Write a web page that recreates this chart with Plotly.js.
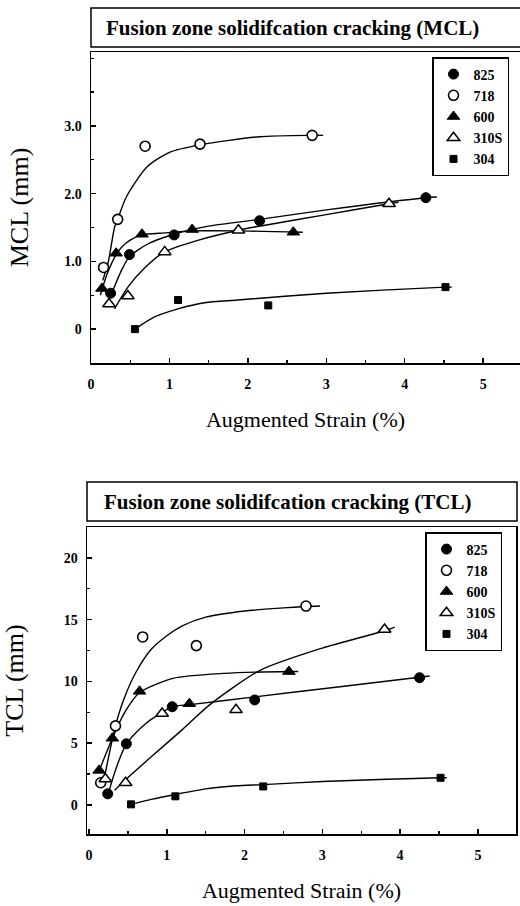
<!DOCTYPE html>
<html>
<head>
<meta charset="utf-8">
<script src="https://cdn.plot.ly/plotly-3.0.1.min.js"></script>
<style>html,body{margin:0;padding:0;background:#fff;}#chart{width:520px;height:906px;}</style>
</head>
<body>
<div id="chart"></div>
<script>
// ---------- Data ----------
const seriesNames = ["825", "718", "600", "310S", "304"];
const xTickVals = [0, 1, 2, 3, 4, 5];
const mclTickVals = [0, 1, 2, 3];
const mclTickText = ["0", "1.0", "2.0", "3.0"];
const tclTickVals = [0, 5, 10, 15, 20];

// MCL measured points
const mcl825X = [0.25, 0.49, 1.06, 2.15, 4.27];
const mcl825Y = [0.53, 1.10, 1.39, 1.60, 1.94];
const mcl718X = [0.16, 0.34, 0.69, 1.39, 2.82];
const mcl718Y = [0.91, 1.62, 2.70, 2.73, 2.86];
const mcl600X = [0.14, 0.32, 0.65, 1.29, 2.58];
const mcl600Y = [0.60, 1.12, 1.40, 1.47, 1.43];
const mcl310X = [0.23, 0.47, 0.94, 1.88, 3.80];
const mcl310Y = [0.37, 0.49, 1.14, 1.46, 1.85];
const mcl304X = [0.56, 1.11, 2.26, 4.52];
const mcl304Y = [0.00, 0.43, 0.35, 0.62];

// MCL fitted curves
const mclFit825X = [0.22, 0.39, 0.49, 0.73, 1.06, 1.5, 2.15, 3.0, 4.27, 4.41];
const mclFit825Y = [0.40, 0.87, 1.07, 1.26, 1.40, 1.52, 1.62, 1.76, 1.94, 1.95];
const mclFit718X = [0.15, 0.22, 0.30, 0.34, 0.45, 0.71, 1.0, 1.39, 2.15, 2.82, 2.96];
const mclFit718Y = [0.72, 0.99, 1.50, 1.62, 1.95, 2.39, 2.61, 2.72, 2.84, 2.86, 2.86];
const mclFit600X = [0.12, 0.20, 0.32, 0.39, 0.51, 0.65, 0.94, 1.29, 1.87, 2.70];
const mclFit600Y = [0.50, 0.80, 1.10, 1.21, 1.32, 1.39, 1.42, 1.45, 1.45, 1.43];
const mclFit310X = [0.30, 0.47, 0.68, 0.94, 1.36, 1.88, 2.2, 3.0, 3.8, 3.92];
const mclFit310Y = [0.30, 0.62, 0.90, 1.14, 1.31, 1.46, 1.53, 1.69, 1.85, 1.87];
const mclFit304X = [0.56, 0.81, 1.11, 1.45, 1.87, 3.0, 4.52, 4.60];
const mclFit304Y = [0.00, 0.18, 0.30, 0.39, 0.43, 0.53, 0.62, 0.62];

// TCL measured points
const tcl825X = [0.24, 0.48, 1.07, 2.13, 4.25];
const tcl825Y = [0.9, 4.95, 7.95, 8.5, 10.3];
const tcl718X = [0.15, 0.34, 0.69, 1.38, 2.79];
const tcl718Y = [1.8, 6.4, 13.6, 12.9, 16.1];
const tcl600X = [0.13, 0.30, 0.65, 1.29, 2.57];
const tcl600Y = [2.8, 5.4, 9.2, 8.2, 10.8];
const tcl310X = [0.21, 0.47, 0.94, 1.89, 3.80];
const tcl310Y = [2.1, 1.8, 7.4, 7.7, 14.2];
const tcl304X = [0.54, 1.11, 2.24, 4.52];
const tcl304Y = [0.05, 0.7, 1.5, 2.2];

// TCL fitted curves
const tclFit825X = [0.26, 0.35, 0.48, 0.73, 1.08, 1.3, 2.13, 3.2, 4.38];
const tclFit825Y = [1.2, 3.0, 4.95, 6.6, 7.96, 8.12, 8.75, 9.55, 10.44];
const tclFit718X = [0.20, 0.34, 0.45, 0.60, 0.80, 1.0, 1.2, 1.5, 2.0, 2.5, 2.79, 2.97];
const tclFit718Y = [2.3, 6.4, 8.6, 10.7, 12.6, 13.7, 14.5, 15.2, 15.7, 15.95, 16.06, 16.1];
const tclFit600X = [0.12, 0.30, 0.45, 0.65, 1.08, 1.73, 2.58, 2.69];
const tclFit600Y = [2.6, 5.4, 7.4, 9.1, 10.25, 10.65, 10.8, 10.8];
const tclFit310X = [0.33, 0.48, 0.80, 1.20, 1.55, 2.20, 3.00, 3.80, 3.93];
const tclFit310Y = [1.2, 2.1, 3.9, 6.1, 8.1, 10.9, 12.7, 14.1, 14.4];
const tclFit304X = [0.54, 0.80, 1.11, 1.50, 1.89, 2.24, 3.0, 4.52, 4.60];
const tclFit304Y = [0.05, 0.45, 0.85, 1.3, 1.55, 1.65, 1.9, 2.2, 2.2];

// ---------- Styles ----------
const W = 520, H = 906;
const fx = p => p / W;
const fy = p => 1 - p / H;
const SERIF = "Liberation Serif, Times New Roman, serif";

const markerStyles = [
  {symbol: "circle", size: 10, color: "black", line: {color: "black", width: 1}},
  {symbol: "circle", size: 10, color: "white", line: {color: "black", width: 1.6}},
  {symbol: "triangle-up", size: 11, color: "black", line: {color: "black", width: 1}},
  {symbol: "triangle-up", size: 11, color: "white", line: {color: "black", width: 1.5}},
  {symbol: "square", size: 7, color: "black", line: {color: "black", width: 1}}
];

const mclPts = [[mcl825X, mcl825Y], [mcl718X, mcl718Y], [mcl600X, mcl600Y], [mcl310X, mcl310Y], [mcl304X, mcl304Y]];
const mclFits = [[mclFit825X, mclFit825Y], [mclFit718X, mclFit718Y], [mclFit600X, mclFit600Y], [mclFit310X, mclFit310Y], [mclFit304X, mclFit304Y]];
const tclPts = [[tcl825X, tcl825Y], [tcl718X, tcl718Y], [tcl600X, tcl600Y], [tcl310X, tcl310Y], [tcl304X, tcl304Y]];
const tclFits = [[tclFit825X, tclFit825Y], [tclFit718X, tclFit718Y], [tclFit600X, tclFit600Y], [tclFit310X, tclFit310Y], [tclFit304X, tclFit304Y]];

const traces = [];
function addChart(pts, fits, xa, ya, legendId) {
  fits.forEach(f => traces.push({
    type: "scatter", mode: "lines", x: f[0], y: f[1], xaxis: xa, yaxis: ya,
    line: {color: "black", width: 1.4, shape: "spline", smoothing: 0.7},
    showlegend: false, hoverinfo: "skip"
  }));
  pts.forEach((p, i) => traces.push({
    type: "scatter", mode: "markers", x: p[0], y: p[1], xaxis: xa, yaxis: ya,
    name: seriesNames[i], legend: legendId, marker: markerStyles[i], cliponaxis: false
  }));
}
addChart(mclPts, mclFits, "x", "y", "legend");
addChart(tclPts, tclFits, "x2", "y2", "legend2");

const tickFont = {family: SERIF, size: 14, color: "black", weight: "bold"};
const axisBase = {
  showline: true, linecolor: "black", linewidth: 1.5, mirror: true,
  ticks: "inside", ticklen: 5, tickwidth: 1.5, tickcolor: "black",
  showgrid: false, zeroline: false, tickfont: tickFont, fixedrange: true
};
const minorX = {ticks: "inside", ticklen: 3, tickwidth: 1.2, tickcolor: "black", dtick: 0.5, tick0: 0, showgrid: false};

const legendBase = {
  xanchor: "left", yanchor: "top", bgcolor: "white",
  bordercolor: "black", borderwidth: 1.5,
  font: {family: SERIF, size: 14, color: "black", weight: "bold"},
  tracegroupgap: 0, itemclick: false, itemdoubleclick: false
};

const layout = {
  width: W, height: H,
  margin: {l: 0, r: 0, t: 0, b: 0},
  paper_bgcolor: "white", plot_bgcolor: "white",
  showlegend: true,
  xaxis: Object.assign({}, axisBase, {
    domain: [fx(91), 1], range: [0, 5.47], tickvals: xTickVals,
    minor: minorX, anchor: "y", ticklabelstandoff: 8,
    title: {text: "Augmented Strain (%)", font: {family: SERIF, size: 22, color: "black"}, standoff: 20}
  }),
  yaxis: Object.assign({}, axisBase, {
    domain: [fy(363), fy(52)], range: [-0.5, 4.09],
    tickvals: mclTickVals, ticktext: mclTickText,
    minor: {ticks: "inside", ticklen: 3, tickwidth: 1.2, tickcolor: "black", dtick: 0.5, tick0: 0, showgrid: false},
    anchor: "x", ticklabelstandoff: 5,
    title: {text: "MCL (mm)", font: {family: SERIF, size: 26, color: "black"}, standoff: 28}
  }),
  xaxis2: Object.assign({}, axisBase, {
    domain: [fx(87), fx(516)], range: [-0.026, 5.49], tickvals: xTickVals,
    minor: minorX, anchor: "y2", ticklabelstandoff: 8,
    title: {text: "Augmented Strain (%)", font: {family: SERIF, size: 22, color: "black"}, standoff: 20}
  }),
  yaxis2: Object.assign({}, axisBase, {
    domain: [fy(834), fy(527)], range: [-2.35, 22.5],
    tickvals: tclTickVals,
    minor: {ticks: "inside", ticklen: 3, tickwidth: 1.2, tickcolor: "black", dtick: 2.5, tick0: 0, showgrid: false},
    anchor: "x2", ticklabelstandoff: 5,
    title: {text: "TCL (mm)", font: {family: SERIF, size: 26, color: "black"}, standoff: 32}
  }),
  legend: Object.assign({}, legendBase, {x: fx(432), y: fy(57)}),
  legend2: Object.assign({}, legendBase, {x: fx(425), y: fy(532)}),
  shapes: [
    {type: "rect", xref: "paper", yref: "paper", x0: fx(91), x1: 1.02, y0: fy(47), y1: fy(8),
     line: {color: "black", width: 1.5}, fillcolor: "rgba(0,0,0,0)"},
    {type: "rect", xref: "paper", yref: "paper", x0: fx(87), x1: fx(517), y0: fy(521), y1: fy(482),
     line: {color: "black", width: 1.5}, fillcolor: "rgba(0,0,0,0)"}
  ],
  annotations: [
    {xref: "paper", yref: "paper", x: fx(104), y: fy(28), xanchor: "left", yanchor: "middle",
     text: "Fusion zone solidifcation cracking (MCL)", showarrow: false,
     font: {family: SERIF, size: 21, color: "black", weight: "bold"}},
    {xref: "paper", yref: "paper", x: fx(102), y: fy(502), xanchor: "left", yanchor: "middle",
     text: "Fusion zone solidifcation cracking (TCL)", showarrow: false,
     font: {family: SERIF, size: 21, color: "black", weight: "bold"}}
  ]
};

Plotly.newPlot("chart", traces, layout, {staticPlot: true, displayModeBar: false});
</script>
</body>
</html>
